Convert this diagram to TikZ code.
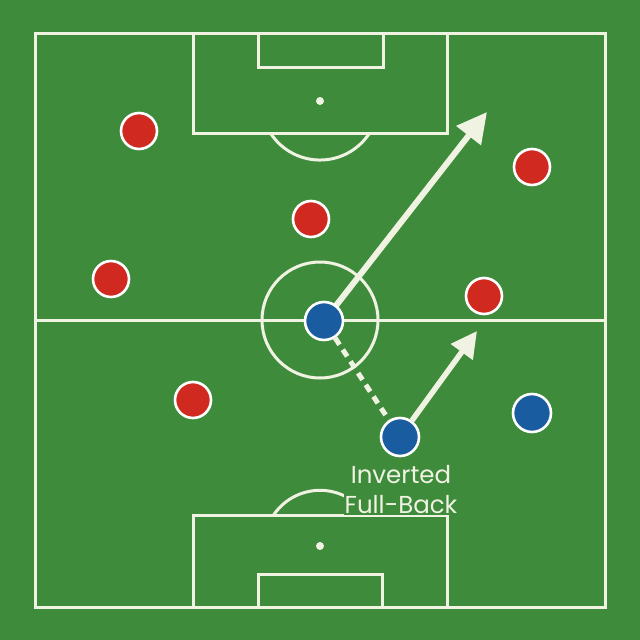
\documentclass[tikz,border=0pt]{standalone}
\usepackage{fontspec}
\setmainfont{Poppins}
\usetikzlibrary{arrows.meta}
\definecolor{pitch}{RGB}{62,139,60}
\definecolor{chalk}{RGB}{240,242,226}
\definecolor{redp}{RGB}{208,42,32}
\definecolor{bluep}{RGB}{26,92,160}
\tikzset{
  line/.style={draw=chalk,line width=3pt},
  redpl/.style={circle,fill=redp,draw=white,line width=2.6pt,minimum size=36pt,inner sep=0pt},
  bluepl/.style={circle,fill=bluep,draw=white,line width=2.6pt,minimum size=38pt,inner sep=0pt},
  run/.style={draw=chalk,line width=6pt,-{Triangle[length=30pt,width=30pt]}},
  runsmall/.style={draw=chalk,line width=5.5pt,-{Triangle[length=26pt,width=26pt]}},
  pass/.style={draw=chalk,line width=5pt,dash pattern=on 8pt off 6pt},
  lbl/.style={fill=pitch,text=chalk,font=\fontsize{24.5}{30}\selectfont,align=center,inner sep=1pt}
}
\begin{document}
\begin{tikzpicture}[x=1pt,y=-1pt]
\useasboundingbox (0,0) rectangle (640,640);
\fill[pitch] (0,0) rectangle (640,640);
% pitch outline
\draw[line] (35,33) rectangle (605,607);
\draw[line] (35,320) -- (605,320);
\draw[line] (320,320) circle[radius=58];
% top area
\draw[line] (193,33) rectangle (447,133);
\draw[line] (258,33) rectangle (383,67);
\fill[chalk] (320,101) circle[radius=4];
\draw[line] (270.4,133) arc[start angle=147.2,end angle=32.8,radius=59];
% bottom area
\draw[line] (193,607) rectangle (447,515);
\draw[line] (258,607) rectangle (382,574);
\fill[chalk] (320,546) circle[radius=4];
\draw[line] (273.6,515) arc[start angle=-146,end angle=-34,radius=56];
% players
\node[redpl] (r1) at (139,131) {};
\node[redpl] (r2) at (532,167) {};
\node[redpl] (r3) at (311,219) {};
\node[redpl] (r4) at (111,279) {};
\node[redpl] (r5) at (484,296) {};
\node[redpl] (r6) at (193,400) {};
\node[bluepl] (b3) at (532,413) {};
\coordinate (t1) at (487,112);
\coordinate (t2) at (477,331);
\draw[run] (324,321) -- (t1);
\node[bluepl] (b1) at (324,321) {};
\node[bluepl] (b2) at (400,437) {};
\draw[pass] (b1) -- (b2);
\draw[runsmall] (b2) -- (t2);
\node[lbl] (lab) at (401,490) {Inverted\\Full-Back};
\end{tikzpicture}
\end{document}
